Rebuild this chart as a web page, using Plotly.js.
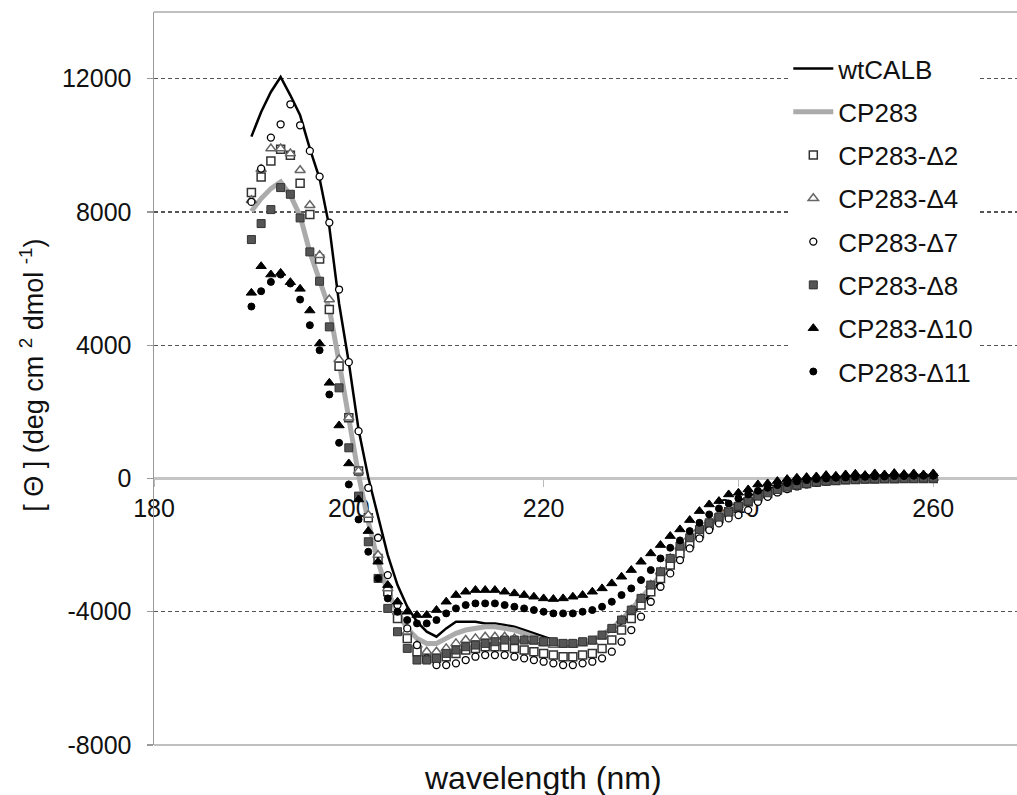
<!DOCTYPE html>
<html>
<head>
<meta charset="utf-8">
<script src="https://cdn.plot.ly/plotly-3.0.1.min.js"></script>
<style>html,body{margin:0;padding:0;background:#fff;}#chart{width:1017px;height:795px;}</style>
</head>
<body>
<div id="chart"></div>
<script>
const wavelength = [190,191,192,193,194,195,196,197,198,199,200,201,202,203,204,205,206,207,208,209,210,211,212,213,214,215,216,217,218,219,220,221,222,223,224,225,226,227,228,229,230,231,232,233,234,235,236,237,238,239,240,241,242,243,244,245,246,247,248,249,250,251,252,253,254,255,256,257,258,259,260];

const wtCALB = [10260,11000,11600,12050,11500,10900,9900,9000,7550,5250,3480,1470,30,-1150,-2300,-3200,-3850,-4300,-4600,-4750,-4500,-4300,-4300,-4300,-4350,-4350,-4400,-4450,-4550,-4650,-4750,-4850,-4900,-4900,-4900,-4850,-4750,-4550,-4350,-4100,-3800,-3450,-3050,-2650,-2300,-1950,-1650,-1350,-1100,-900,-700,-550,-420,-320,-240,-170,-120,-80,-50,-30,-10,0,10,20,20,30,30,30,30,20,20];

const CP283 = [8020,8400,8700,8900,8500,7880,6790,5920,5100,3500,1800,100,-1300,-2500,-3400,-4000,-4500,-4800,-4950,-4950,-4800,-4650,-4550,-4500,-4450,-4450,-4500,-4550,-4650,-4750,-4850,-4900,-4950,-4950,-4900,-4850,-4700,-4500,-4250,-3950,-3600,-3250,-2900,-2550,-2200,-1900,-1600,-1350,-1150,-950,-800,-650,-520,-420,-330,-260,-200,-150,-110,-80,-60,-50,-40,-30,-30,-20,-20,-10,-10,-10,0];

const CP283_d2 = [8580,9050,9530,9880,9700,8860,7920,6590,5070,3370,1820,220,-1180,-2400,-3400,-4200,-4800,-5200,-5400,-5400,-5350,-5250,-5150,-5100,-5050,-5050,-5050,-5100,-5150,-5200,-5250,-5300,-5350,-5350,-5300,-5250,-5100,-4850,-4550,-4200,-3800,-3400,-3000,-2600,-2250,-1950,-1650,-1400,-1200,-1000,-850,-700,-550,-450,-350,-270,-200,-150,-110,-80,-60,-40,-30,-20,-20,-10,-10,0,0,0,0];

const CP283_d4 = [8350,9280,9900,9900,9750,9250,8200,6700,5370,3570,1820,220,-1100,-2300,-3300,-4000,-4600,-5000,-5200,-5200,-5100,-4950,-4850,-4800,-4750,-4750,-4750,-4800,-4850,-4900,-4950,-5000,-5000,-5000,-4950,-4900,-4750,-4550,-4250,-3950,-3600,-3200,-2800,-2400,-2050,-1750,-1500,-1300,-1100,-950,-800,-650,-520,-420,-330,-250,-190,-140,-100,-70,-50,-30,-20,-10,0,0,10,10,10,10,10];

const CP283_d7 = [8300,9300,10230,10630,11230,10600,9830,9060,7680,5670,3490,1420,-280,-1780,-2900,-3800,-4500,-5000,-5400,-5600,-5600,-5550,-5450,-5350,-5300,-5300,-5300,-5350,-5400,-5450,-5500,-5550,-5600,-5600,-5550,-5500,-5400,-5200,-4900,-4550,-4150,-3700,-3250,-2850,-2450,-2100,-1800,-1550,-1350,-1200,-1100,-950,-700,-550,-420,-320,-240,-180,-130,-90,-60,-40,-20,-10,0,10,20,20,30,30,30];

const CP283_d8 = [7170,7650,8070,8730,8530,7820,6800,5920,4550,2720,920,-530,-1900,-3000,-3900,-4600,-5100,-5450,-5450,-5400,-5250,-5150,-5050,-5000,-4950,-4900,-4850,-4850,-4850,-4850,-4900,-4900,-4950,-4950,-4900,-4850,-4700,-4500,-4250,-3950,-3600,-3200,-2800,-2400,-2030,-1780,-1530,-1330,-1160,-1010,-830,-680,-530,-430,-330,-260,-200,-150,-110,-80,-60,-40,-30,-20,-10,0,0,0,0,10,10];

const CP283_d10 = [5570,6370,6120,6170,5890,5690,5040,4050,2870,1590,450,-630,-1580,-2500,-3200,-3700,-4000,-4100,-4100,-3950,-3700,-3500,-3400,-3350,-3350,-3350,-3400,-3450,-3500,-3550,-3600,-3620,-3600,-3550,-3500,-3400,-3300,-3150,-2950,-2750,-2500,-2250,-2000,-1730,-1530,-1250,-980,-780,-680,-480,-430,-330,-180,-150,-80,-20,20,40,60,100,80,120,140,100,150,120,160,130,150,120,150];

const CP283_d11 = [5160,5620,5900,6120,5850,5370,4600,3850,2520,1070,-180,-1230,-2200,-3000,-3600,-4000,-4250,-4350,-4350,-4250,-4050,-3900,-3800,-3750,-3750,-3750,-3800,-3850,-3900,-3950,-4000,-4050,-4050,-4050,-4000,-3950,-3850,-3700,-3500,-3300,-3050,-2750,-2400,-2080,-1860,-1580,-1330,-1080,-900,-750,-600,-480,-370,-280,-200,-140,-90,-50,-20,0,20,30,40,50,60,60,70,70,80,80,80];

const xTickVals = [180,200,220,240,260];
const yTickVals = [-8000,-4000,0,4000,8000,12000];
const yTickText = ['-8000','-4000','0','4000','8000','12000'];

const FONT = 'Liberation Sans, Arial, Helvetica, sans-serif';

function markerTrace(name, y, symbol, size, fill, lineColor, lineWidth) {
  return {
    x: wavelength, y: y, name: name, type: 'scatter', mode: 'markers',
    legendgroup: name,
    marker: {symbol: symbol, size: size, color: fill, line: {color: lineColor, width: lineWidth}}
  };
}

const traces = [
  {x: wavelength, y: wtCALB, name: 'wtCALB', type: 'scatter', mode: 'lines', legendgroup: 'wtCALB',
   line: {color: '#000', width: 2.5}},
  {x: wavelength, y: CP283, name: 'CP283', type: 'scatter', mode: 'lines', legendgroup: 'CP283',
   line: {color: '#ababab', width: 5}},
  markerTrace('CP283-Δ2', CP283_d2, 'square', 8, '#ffffff', '#333333', 1.5),
  markerTrace('CP283-Δ4', CP283_d4, 'triangle-up', 9, '#ffffff', '#666666', 1.5),
  markerTrace('CP283-Δ7', CP283_d7, 'circle', 7, '#ffffff', '#000000', 1.3),
  markerTrace('CP283-Δ8', CP283_d8, 'square', 8, '#555555', '#333333', 1),
  markerTrace('CP283-Δ10', CP283_d10, 'triangle-up', 9, '#000000', '#000000', 1),
  markerTrace('CP283-Δ11', CP283_d11, 'circle', 7, '#000000', '#000000', 1)
];

const layout = {
  width: 1017, height: 795,
  margin: {l: 154, r: 0, t: 12, b: 50, pad: 0},
  paper_bgcolor: '#ffffff', plot_bgcolor: '#ffffff',
  font: {family: FONT, color: '#111'},
  showlegend: true,
  legend: {
    x: 0.735, y: 0.955, xanchor: 'left', yanchor: 'top',
    bgcolor: '#ffffff', borderwidth: 0,
    traceorder: 'grouped', tracegroupgap: 6.5,
    font: {family: FONT, size: 26, color: '#111'},
    itemwidth: 40
  },
  xaxis: {
    range: [180, 268.6], anchor: 'free', position: 8000/22000,
    tickvals: xTickVals, ticks: 'outside', ticklen: 7, tickcolor: '#bbbbbb', tickwidth: 1.2,
    showline: true, linecolor: '#c4c4c4', linewidth: 1.5,
    showgrid: false, zeroline: false, layer: 'below traces',
    tickfont: {family: FONT, size: 25, color: '#111'}
  },
  yaxis: {
    range: [-8000, 14000], tickvals: yTickVals, ticktext: yTickText,
    ticks: 'outside', ticklen: 6, tickcolor: '#999999', tickwidth: 1.2,
    ticklabelstandoff: 10,
    showline: true, linecolor: '#9a9a9a', linewidth: 1.5,
    showgrid: true, gridcolor: '#555555', gridwidth: 1.3, griddash: '4px,3px',
    zeroline: true, zerolinecolor: '#c4c4c4', zerolinewidth: 2,
    tickfont: {family: FONT, size: 25, color: '#111'}
  },
  shapes: [
    {type: 'line', xref: 'paper', yref: 'paper', x0: 0, x1: 1, y0: 1, y1: 1, line: {color: '#aaaaaa', width: 1.5}},
    {type: 'line', xref: 'paper', yref: 'paper', x0: 0, x1: 1, y0: 0, y1: 0, line: {color: '#aaaaaa', width: 1.5}}
  ],
  annotations: [
    {text: 'wavelength (nm)', xref: 'paper', yref: 'paper', x: 0.4507, y: -0.045,
     xanchor: 'center', yanchor: 'middle', showarrow: false,
     font: {family: FONT, size: 32, color: '#111'}},
    {text: '[ Θ ] (deg cm <sup>2</sup> dmol <sup>-1</sup>)', xref: 'paper', yref: 'paper',
     x: -0.1414, y: 0.505, xanchor: 'center', yanchor: 'middle', textangle: -90, showarrow: false,
     font: {family: FONT, size: 27, color: '#111'}}
  ]
};

Plotly.newPlot('chart', traces, layout, {displayModeBar: false, staticPlot: true});
</script>
</body>
</html>
